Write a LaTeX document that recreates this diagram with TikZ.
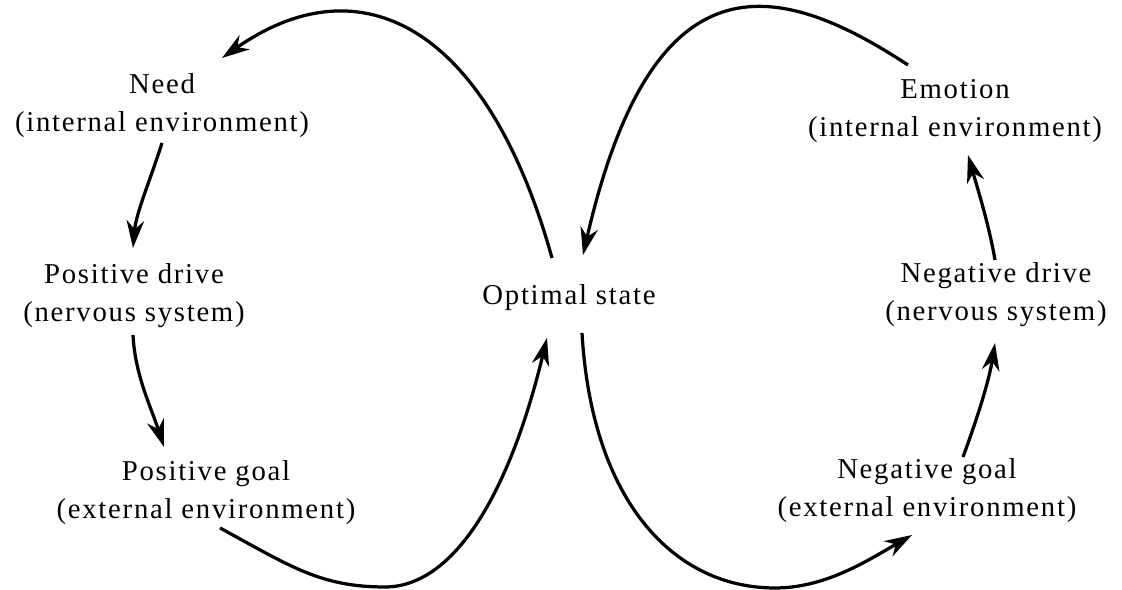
\documentclass[tikz,border=0pt]{standalone}
\usepackage{fontspec}
\setmainfont{Liberation Serif}[LetterSpace=6]
\usetikzlibrary{arrows.meta}

\begin{document}
\begin{tikzpicture}[x=0.4pt,y=-0.4pt,font=\fontsize{11.5}{15.2}\selectfont,
  lbl/.style={align=center,inner sep=0pt},
  flow/.style={line width=1.3pt,-{Stealth[length=11pt,width=7pt,inset=3.5pt]}}]
  \useasboundingbox (0,0) rectangle (1122,590);
  % left loop
  \node[lbl] (need) at (162,106) {Need\\(internal environment)};
  \node[lbl] (pdrive) at (134,296) {Positive drive\\(nervous system)};
  \node[lbl] (pgoal) at (206,493) {Positive goal\\(external environment)};
  \node[lbl] (opt) at (569,298) {Optimal state};
  % right loop
  \node[lbl] (emo) at (955,111) {Emotion\\(internal environment)};
  \node[lbl] (ndrive) at (996,295) {Negative drive\\(nervous system)};
  \node[lbl] (ngoal) at (927,491) {Negative goal\\(external environment)};
  % big arcs through the optimal state
  \draw[flow] ([shift={(-17,-40)}]opt.center) .. controls +(-64,-230) and +(140,-98) .. ([shift={(60,-48)}]need.center);
  \draw[flow] ([shift={(14,35)}]pgoal.center) .. controls +(70,38) and +(-65,0) .. (385,587)
    .. controls +(65,0) and +(-40,165) .. ([shift={(-22,40)}]opt.center);
  \draw[flow] ([shift={(13,35)}]opt.center) .. controls +(10,170) and +(-100,0) .. (775,588)
    .. controls +(50,0) and +(-45,26) .. ([shift={(-15,44)}]ngoal.center);
  \draw[flow] ([shift={(-47,-46)}]emo.center) .. controls +(-134,-88) and +(69,-300) .. ([shift={(14,-43)}]opt.center);
  % short steps
  \draw[flow] ([shift={(0,37)}]need.center) .. controls +(-11,35) and +(3,-35) .. ([shift={(-1,-48)}]pdrive.center);
  \draw[flow] ([shift={(-1,39)}]pdrive.center) .. controls +(2,40) and +(-13,-40) .. ([shift={(-42,-46)}]pgoal.center);
  \draw[flow] ([shift={(36,-34)}]ngoal.center) .. controls +(14,-38) and +(-6,38) .. ([shift={(-1,48)}]ndrive.center);
  \draw[flow] ([shift={(-1,-35)}]ndrive.center) .. controls +(-6,-35) and +(10,35) .. ([shift={(13,44)}]emo.center);
\end{tikzpicture}
\end{document}
